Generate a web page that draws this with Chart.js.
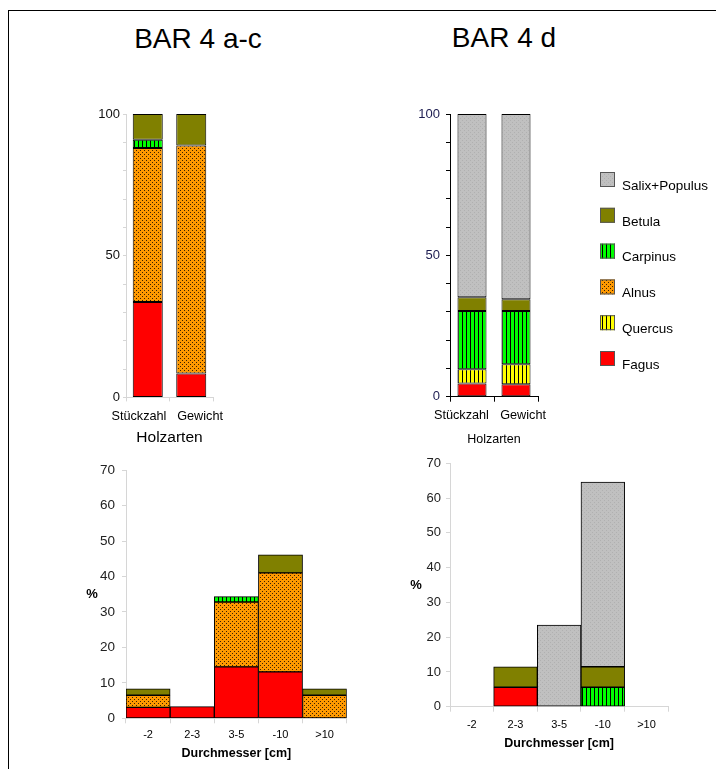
<!DOCTYPE html>
<html>
<head>
<meta charset="utf-8">
<script src="https://cdn.jsdelivr.net/npm/chart.js@4.4.1/dist/chart.umd.min.js"></script>
<style>
  body { margin: 0; background: #fff; width: 716px; height: 769px; overflow: hidden; position: relative; font-family: "Liberation Sans", Arial, sans-serif; }
  .frame { position: absolute; left: 8px; top: 10px; width: 800px; height: 800px; border-top: 1px solid #000; border-left: 1px solid #000; }
  .title { position: absolute; font-size: 28px; line-height: 28px; color: #000; white-space: nowrap; transform: translateX(-50%); }
  canvas { position: absolute; }
</style>
</head>
<body>
<div class="frame"></div>
<div class="title" style="left:198px; top:25px;">BAR 4 a-c</div>
<div class="title" style="left:504px; top:24px;">BAR 4 d</div>
<canvas id="holzAC" width="180" height="350" style="left:70px; top:100px;"></canvas>
<canvas id="holzD" width="306" height="350" style="left:410px; top:100px;"></canvas>
<canvas id="durchAC" width="290" height="310" style="left:70px; top:455px;"></canvas>
<canvas id="durchD" width="290" height="310" style="left:410px; top:450px;"></canvas>
<script>
// species, bottom of the stack first
const species = ['Fagus', 'Quercus', 'Alnus', 'Carpinus', 'Betula', 'Salix+Populus'];
const holzCats = ['Stückzahl', 'Gewicht'];
const durchCats = ['-2', '2-3', '3-5', '-10', '>10'];

// BAR 4 a-c, Holzarten (%)
const acFagus = [33.7, 8.4];
const acQuercus = [null, null];
const acAlnus = [54.3, 80.5];
const acCarpinus = [2.9, null];
const acBetula = [9.1, 11.1];
const acSalix = [null, null];

// BAR 4 d, Holzarten (%)
const dFagus = [4.7, 4.4];
const dQuercus = [5.0, 7.1];
const dAlnus = [null, null];
const dCarpinus = [20.6, 18.8];
const dBetula = [4.9, 4.2];
const dSalix = [64.8, 65.5];

// BAR 4 a-c, Durchmesser (%)
const acDmFagus = [3.1, 3.3, 14.5, 13.1, null];
const acDmQuercus = [null, null, null, null, null];
const acDmAlnus = [3.4, null, 18.3, 27.9, 6.5];
const acDmCarpinus = [null, null, 1.5, null, null];
const acDmBetula = [1.8, null, null, 5.1, 1.8];
const acDmSalix = [null, null, null, null, null];

// BAR 4 d, Durchmesser (%)
const dDmFagus = [null, 5.6, null, null, null];
const dDmQuercus = [null, null, null, null, null];
const dDmAlnus = [null, null, null, null, null];
const dDmCarpinus = [null, null, null, 5.6, null];
const dDmBetula = [null, 5.9, null, 5.9, null];
const dDmSalix = [null, null, 23.5, 53.1, null];

Chart.defaults.font.family = '"Liberation Sans", Arial, sans-serif';
Chart.defaults.animation = false;

// small tiled fills like the old Excel hatches
function tile(bg, size, dots) {
    const c = document.createElement('canvas');
    c.width = size; c.height = size;
    const g = c.getContext('2d');
    g.fillStyle = bg;
    g.fillRect(0, 0, size, size);
    dots.forEach(d => { g.fillStyle = d[2]; g.fillRect(d[0], d[1], d[3] || 1, d[4] || 1); });
    return g.createPattern(c, 'repeat');
}

const fills = [
    '#ff0000',
    tile('#ffff00', 4, [[0, 0, '#000', 1, 4]]),
    tile('#ff9900', 4, [[0, 0, '#3a2000'], [2, 2, '#3a2000']]),
    tile('#00ff00', 4, [[0, 0, '#000', 1, 4]]),
    '#808000',
    tile('#c0c0c0', 4, [[0, 0, '#b0b0b0'], [2, 2, '#b0b0b0']])
];

function makeSets(rows, barPct) {
    return species.map((name, i) => ({
        label: name,
        data: rows[i],
        backgroundColor: fills[i],
        borderColor: '#000',
        borderWidth: 1,
        borderSkipped: false,
        barPercentage: barPct,
        categoryPercentage: 1
    }));
}

function yAxis(o) {
    return {
        stacked: true,
        min: 0,
        max: o.max,
        afterFit: s => { s.width = o.width; },
        border: { color: o.axis },
        grid: { drawOnChartArea: false, color: o.axis, tickLength: o.tl },
        ticks: {
            stepSize: 10,
            padding: o.pad,
            color: o.color,
            font: { size: o.size },
            callback: v => (v % o.every === 0 ? v : '')
        }
    };
}

function xAxis(o) {
    return {
        stacked: true,
        afterFit: s => { s.height = o.height; },
        border: { color: o.axis },
        grid: { drawOnChartArea: false, color: o.axis, tickLength: o.tl },
        ticks: {
            padding: o.pad,
            color: '#000',
            font: { size: o.size },
            maxRotation: 0,
            minRotation: 0,
            autoSkip: false,
            // the two Holzarten labels sit wider apart than their bars
            callback: function (v, i) {
                const label = this.getLabelForValue(v);
                if (!o.spread) return label;
                const gap = '\u00a0'.repeat(o.spread[i]);
                return i === 0 ? label + gap : gap + label;
            }
        },
        title: {
            display: true,
            text: o.title,
            color: '#000',
            font: { size: o.titleSize, weight: o.bold ? 'bold' : 'normal' },
            padding: { top: 0, bottom: o.titlePad }
        }
    };
}

// legend at the right of BAR 4 d, top species first
const sideLegend = {
    id: 'sideLegend',
    afterDraw(chart) {
        const ctx = chart.ctx;
        const items = chart.data.datasets.slice().reverse();
        ctx.save();
        ctx.font = '13.5px "Liberation Sans", Arial, sans-serif';
        ctx.textBaseline = 'middle';
        ctx.textAlign = 'left';
        items.forEach((ds, i) => {
            const y = 72 + i * 35.8;
            ctx.fillStyle = ds.backgroundColor;
            ctx.fillRect(190, y, 15, 15);
            ctx.strokeStyle = '#555';
            ctx.lineWidth = 1;
            ctx.strokeRect(190.5, y + 0.5, 14, 14);
            ctx.fillStyle = '#000';
            ctx.fillText(ds.label, 212, y + 14);
        });
        ctx.restore();
    }
};

// the "%" of the lower charts stands upright
const percentLabel = {
    id: 'percentLabel',
    afterDraw(chart) {
        const a = chart.chartArea;
        const ctx = chart.ctx;
        ctx.save();
        ctx.font = 'bold 13px "Liberation Sans", Arial, sans-serif';
        ctx.fillStyle = '#000';
        ctx.textAlign = 'center';
        ctx.textBaseline = 'middle';
        ctx.fillText('%', a.left - 34, (a.top + a.bottom) / 2);
        ctx.restore();
    }
};

const faint = '#d6d6d6';

new Chart(document.getElementById('holzAC'), {
    type: 'bar',
    data: { labels: holzCats, datasets: makeSets([acFagus, acQuercus, acAlnus, acCarpinus, acBetula, acSalix], 0.69) },
    options: {
        responsive: false,
        layout: { padding: { top: 14, right: 37, left: 0, bottom: 0 } },
        plugins: { legend: { display: false }, tooltip: { enabled: false } },
        scales: {
            x: xAxis({ height: 52.6, axis: faint, tl: 4, pad: 7, size: 12.7, spread: [5, 5], title: 'Holzarten', titleSize: 15.5, titlePad: 3 }),
            y: yAxis({ max: 100, width: 56, axis: faint, tl: 3, pad: 3, color: '#111', size: 13, every: 50 })
        }
    }
});

new Chart(document.getElementById('holzD'), {
    type: 'bar',
    data: { labels: holzCats, datasets: makeSets([dFagus, dQuercus, dAlnus, dCarpinus, dBetula, dSalix], 0.66) },
    options: {
        responsive: false,
        layout: { padding: { top: 14, right: 178, left: 0, bottom: 0 } },
        plugins: { legend: { display: false }, tooltip: { enabled: false } },
        scales: {
            x: xAxis({ height: 53.3, axis: '#000', tl: 5, pad: 6, size: 12.7, spread: [6, 4], title: 'Holzarten', titleSize: 12.5, titlePad: 2.5 }),
            y: yAxis({ max: 100, width: 40, axis: '#000', tl: 4, pad: 6, color: '#1c1c50', size: 13, every: 50 })
        }
    },
    plugins: [sideLegend]
});

new Chart(document.getElementById('durchAC'), {
    type: 'bar',
    data: { labels: durchCats, datasets: makeSets([acDmFagus, acDmQuercus, acDmAlnus, acDmCarpinus, acDmBetula, acDmSalix], 1) },
    options: {
        responsive: false,
        layout: { padding: { top: 14, right: 13.3, left: 0, bottom: 0 } },
        plugins: { legend: { display: false }, tooltip: { enabled: false } },
        scales: {
            x: xAxis({ height: 46.7, axis: faint, tl: 5, pad: 5, size: 11, title: 'Durchmesser [cm]', titleSize: 12.5, bold: true, titlePad: 3.5 }),
            y: yAxis({ max: 70, width: 56, axis: faint, tl: 4, pad: 7, color: '#222', size: 13.5, every: 10 })
        }
    },
    plugins: [percentLabel]
});

new Chart(document.getElementById('durchD'), {
    type: 'bar',
    data: { labels: durchCats, datasets: makeSets([dDmFagus, dDmQuercus, dDmAlnus, dDmCarpinus, dDmBetula, dDmSalix], 1) },
    options: {
        responsive: false,
        layout: { padding: { top: 13.3, right: 31.7, left: 0, bottom: 0 } },
        plugins: { legend: { display: false }, tooltip: { enabled: false } },
        scales: {
            x: xAxis({ height: 53.3, axis: faint, tl: 5, pad: 7, size: 11, title: 'Durchmesser [cm]', titleSize: 12.5, bold: true, titlePad: 9 }),
            y: yAxis({ max: 70, width: 40, axis: faint, tl: 4, pad: 5, color: '#222', size: 13, every: 10 })
        }
    },
    plugins: [percentLabel]
});
</script>
</body>
</html>
